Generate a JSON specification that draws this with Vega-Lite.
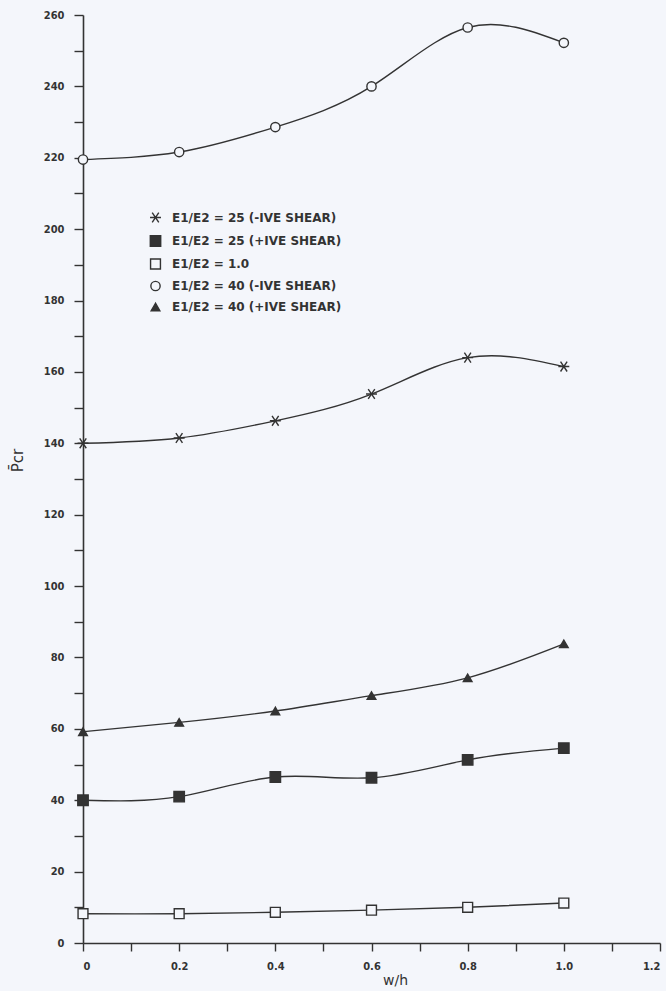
{
  "$schema": "https://vega.github.io/schema/vega-lite/v6.json",
  "width": 577,
  "height": 928,
  "autosize": "none",
  "padding": {"left": 83, "top": 15, "right": 6, "bottom": 48},
  "background": "#f4f6fb",
  "config": {
    "view": {"stroke": null},
    "font": "DejaVu Sans Condensed, DejaVu Sans",
    "axis": {"domainColor": "#333", "tickColor": "#333", "labelColor": "#333", "titleColor": "#333", "grid": false, "labelFont": "DejaVu Sans Condensed, DejaVu Sans", "labelFontWeight": "bold", "labelFontSize": 11, "domainWidth": 1.6, "tickWidth": 1.4}
  },
  "data": {
    "values": [
      {"s": "E1/E2 = 25 (-IVE SHEAR)", "x": 0, "y": 140},
      {"s": "E1/E2 = 25 (-IVE SHEAR)", "x": 0.2, "y": 141.5},
      {"s": "E1/E2 = 25 (-IVE SHEAR)", "x": 0.4, "y": 146.3},
      {"s": "E1/E2 = 25 (-IVE SHEAR)", "x": 0.6, "y": 153.8},
      {"s": "E1/E2 = 25 (-IVE SHEAR)", "x": 0.8, "y": 164},
      {"s": "E1/E2 = 25 (-IVE SHEAR)", "x": 1.0, "y": 161.5},
      {"s": "E1/E2 = 25 (+IVE SHEAR)", "x": 0, "y": 40},
      {"s": "E1/E2 = 25 (+IVE SHEAR)", "x": 0.2, "y": 41},
      {"s": "E1/E2 = 25 (+IVE SHEAR)", "x": 0.4, "y": 46.5},
      {"s": "E1/E2 = 25 (+IVE SHEAR)", "x": 0.6, "y": 46.3},
      {"s": "E1/E2 = 25 (+IVE SHEAR)", "x": 0.8, "y": 51.3},
      {"s": "E1/E2 = 25 (+IVE SHEAR)", "x": 1.0, "y": 54.6},
      {"s": "E1/E2 = 1.0", "x": 0, "y": 8.2},
      {"s": "E1/E2 = 1.0", "x": 0.2, "y": 8.2},
      {"s": "E1/E2 = 1.0", "x": 0.4, "y": 8.6},
      {"s": "E1/E2 = 1.0", "x": 0.6, "y": 9.2},
      {"s": "E1/E2 = 1.0", "x": 0.8, "y": 10},
      {"s": "E1/E2 = 1.0", "x": 1.0, "y": 11.2},
      {"s": "E1/E2 = 40 (-IVE SHEAR)", "x": 0, "y": 219.5},
      {"s": "E1/E2 = 40 (-IVE SHEAR)", "x": 0.2, "y": 221.6},
      {"s": "E1/E2 = 40 (-IVE SHEAR)", "x": 0.4, "y": 228.6},
      {"s": "E1/E2 = 40 (-IVE SHEAR)", "x": 0.6, "y": 240},
      {"s": "E1/E2 = 40 (-IVE SHEAR)", "x": 0.8, "y": 256.5},
      {"s": "E1/E2 = 40 (-IVE SHEAR)", "x": 1.0, "y": 252.2},
      {"s": "E1/E2 = 40 (+IVE SHEAR)", "x": 0, "y": 59.2},
      {"s": "E1/E2 = 40 (+IVE SHEAR)", "x": 0.2, "y": 61.8},
      {"s": "E1/E2 = 40 (+IVE SHEAR)", "x": 0.4, "y": 65},
      {"s": "E1/E2 = 40 (+IVE SHEAR)", "x": 0.6, "y": 69.3},
      {"s": "E1/E2 = 40 (+IVE SHEAR)", "x": 0.8, "y": 74.3},
      {"s": "E1/E2 = 40 (+IVE SHEAR)", "x": 1.0, "y": 83.8}
    ]
  },
  "encoding": {
    "x": {
      "field": "x", "type": "quantitative",
      "scale": {"domain": [0, 1.2], "nice": false, "zero": false},
      "axis": {
        "title": "w/h", "titleFontSize": 14, "titleFontWeight": "normal", "titlePadding": 2,
        "titleFont": "DejaVu Sans", "titleX": 312,
        "values": [0, 0.1, 0.2, 0.3, 0.4, 0.5, 0.6, 0.7, 0.8, 0.9, 1.0, 1.1, 1.2],
        "labelExpr": "round(datum.value*10) % 2 == 0 ? (datum.value == 0 ? '0' : format(datum.value, '.1f')) : ''",
        "tickSize": 8, "labelPadding": 9, "offset": 0
      }
    },
    "y": {
      "field": "y", "type": "quantitative",
      "scale": {"domain": [0, 260], "nice": false},
      "axis": {
        "title": "P\u0304cr", "titleFontSize": 15, "titleFontWeight": "normal",
        "titleFont": "DejaVu Sans",
        "titleX": -58, "titleY": 445,
        "values": [0,10,20,30,40,50,60,70,80,90,100,110,120,130,140,150,160,170,180,190,200,210,220,230,240,250,260],
        "labelExpr": "datum.value % 20 == 0 ? datum.label : ''",
        "tickSize": 9, "labelPadding": 10
      }
    }
  },
  "layer": [
    {
      "mark": {"type": "line", "interpolate": "natural", "color": "#333", "strokeWidth": 1.4},
      "encoding": {"detail": {"field": "s"}}
    },
    {
      "mark": {"type": "point", "strokeWidth": 1.4, "opacity": 1},
      "encoding": {
        "shape": {
          "field": "s", "type": "nominal",
          "scale": {
            "domain": ["E1/E2 = 25 (-IVE SHEAR)", "E1/E2 = 25 (+IVE SHEAR)", "E1/E2 = 1.0", "E1/E2 = 40 (-IVE SHEAR)", "E1/E2 = 40 (+IVE SHEAR)"],
            "range": ["M-0.6,-0.9L0.6,0.9M-0.6,0.9L0.6,-0.9M-1,0L1,0", "square", "square", "circle", "triangle-up"]
          },
          "legend": {
            "title": null, "orient": "none", "legendX": 66, "legendY": 196,
            "labelFontSize": 12, "labelFontWeight": "bold", "labelColor": "#333",
            "labelFont": "DejaVu Sans",
            "symbolStrokeWidth": 1.4, "rowPadding": 6, "labelOffset": 10, "labelLimit": 300
          }
        },
        "size": {
          "field": "s", "type": "nominal",
          "scale": {
            "domain": ["E1/E2 = 25 (-IVE SHEAR)", "E1/E2 = 25 (+IVE SHEAR)", "E1/E2 = 1.0", "E1/E2 = 40 (-IVE SHEAR)", "E1/E2 = 40 (+IVE SHEAR)"],
            "range": [120, 75, 75, 85, 85]
          },
          "legend": {
            "title": null, "orient": "none", "legendX": 66, "legendY": 196,
            "labelFontSize": 12, "labelFontWeight": "bold", "labelColor": "#333",
            "labelFont": "DejaVu Sans",
            "symbolStrokeWidth": 1.4, "rowPadding": 6, "labelOffset": 10, "labelLimit": 300
          }
        },
        "fill": {
          "field": "s", "type": "nominal",
          "scale": {
            "domain": ["E1/E2 = 25 (-IVE SHEAR)", "E1/E2 = 25 (+IVE SHEAR)", "E1/E2 = 1.0", "E1/E2 = 40 (-IVE SHEAR)", "E1/E2 = 40 (+IVE SHEAR)"],
            "range": ["#f4f6fb", "#333", "#f4f6fb", "#f4f6fb", "#333"]
          },
          "legend": {
            "title": null, "orient": "none", "legendX": 66, "legendY": 196,
            "labelFontSize": 12, "labelFontWeight": "bold", "labelColor": "#333",
            "labelFont": "DejaVu Sans",
            "symbolStrokeWidth": 1.4, "rowPadding": 6, "labelOffset": 10, "labelLimit": 300
          }
        },
        "stroke": {"value": "#333"}
      }
    }
  ]
}
